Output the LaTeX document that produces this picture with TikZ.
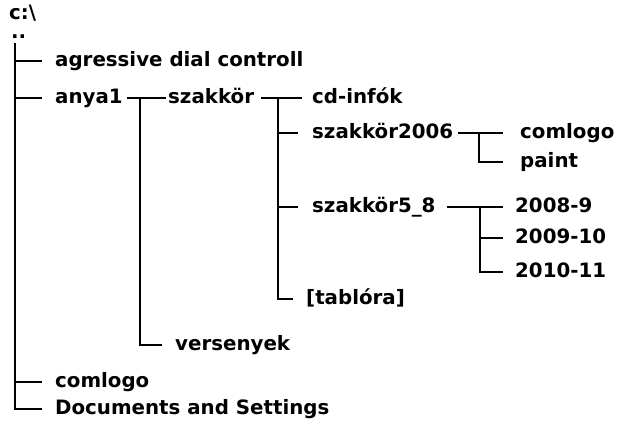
\documentclass[tikz,border=0pt]{standalone}
\usepackage{fontspec}
\setmainfont{DejaVu Sans}
\usetikzlibrary{positioning}

\begin{document}
\begin{tikzpicture}[x=1pt,y=-1pt]
\tikzstyle{every node}+=[inner sep=0pt]
\tikzstyle{dir}=[anchor=west,font=\fontsize{19.8}{22}\bfseries\selectfont,text height=14pt,text depth=4pt]
\tikzstyle{branch}=[black,line width=1.6pt]
\useasboundingbox (0,0) rectangle (626,423);
% drive and parent
\node [dir] (drive) at (9,14) {c:\textbackslash};
\node [dir,text height=6pt,text depth=0pt] (up) at (11,35) {..};
\coordinate (top) at (15,43);
% first level
\node [dir] (agr) at (55,61) {agressive dial controll};
\node [dir] (anya) at (55,98) {anya1};
\node [dir] (comlogoa) at (55,382) {comlogo};
\node [dir] (docs) at (55,409) {Documents and Settings};
% second level
\node [dir] (szakkor) at (168,98) {szakkör};
\node [dir] (verseny) at (175,345) {versenyek};
% third level
\node [dir] (cdinfo) at (312,98) {cd-infók};
\node [dir] (szak2006) at (312,133) {szakkör2006};
\node [dir] (szak58) at (312,207) {szakkör5\_8};
\node [dir] (tablo) at (306,299) {[tablóra]};
% fourth level
\node [dir] (comlogob) at (520,133) {comlogo};
\node [dir] (paint) at (520,162) {paint};
\node [dir] (y2008) at (515,207) {2008-9};
\node [dir] (y2009) at (515,238) {2009-10};
\node [dir] (y2010) at (515,272) {2010-11};
% junctions
\coordinate (ja) at (140,98);
\coordinate (jb) at (278,98);
\coordinate (jc) at (479,133);
\coordinate (jd) at (480,207);
% connectors
\draw [branch] (top) |- ([xshift=-13pt]docs.west);
\draw [branch] (top |- agr) -- ([xshift=-13pt]agr.west);
\draw [branch] (top |- anya) -- ([xshift=-13pt]anya.west);
\draw [branch] (top |- comlogoa) -- ([xshift=-13pt]comlogoa.west);
\draw [branch] ([xshift=4pt]anya.east) -- ([xshift=-2pt]szakkor.west);
\draw [branch] (ja) |- ([xshift=-13pt]verseny.west);
\draw [branch] ([xshift=7pt]szakkor.east) -- ([xshift=-10pt]cdinfo.west);
\draw [branch] (jb) |- ([xshift=-13pt]tablo.west);
\draw [branch] (jb |- szak2006) -- ([xshift=-14pt]szak2006.west);
\draw [branch] (jb |- szak58) -- ([xshift=-14pt]szak58.west);
\draw [branch] ([xshift=5pt]szak2006.east) -- ([xshift=-17pt]comlogob.west);
\draw [branch] (jc) |- ([xshift=-17pt]paint.west);
\draw [branch] ([xshift=11pt]szak58.east) -- ([xshift=-12pt]y2008.west);
\draw [branch] (jd) |- ([xshift=-12pt]y2010.west);
\draw [branch] (jd |- y2009) -- ([xshift=-12pt]y2009.west);
\end{tikzpicture}
\end{document}
